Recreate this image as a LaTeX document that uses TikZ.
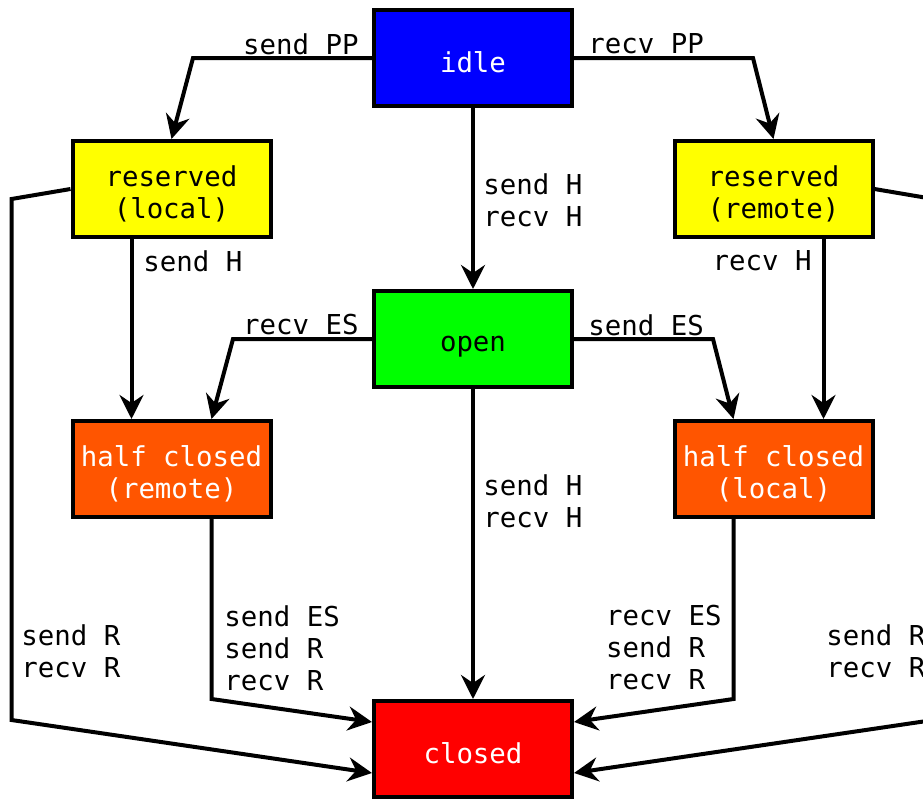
\documentclass[tikz,border=0pt]{standalone}
\usepackage{fontspec}
\setmonofont{DejaVu Sans Mono}
\usetikzlibrary{arrows.meta}
\definecolor{idleblue}{RGB}{0,0,255}
\definecolor{reservedyellow}{RGB}{255,255,0}
\definecolor{opengreen}{RGB}{0,255,0}
\definecolor{halforange}{RGB}{255,85,0}
\definecolor{closedred}{RGB}{255,0,0}
% taller first line, so the state names sit a little low in their boxes
\newcommand{\topstrut}{\rule{0pt}{15pt}}

\tikzset{
  statebox/.style={draw, line width=2pt, minimum width=99pt, minimum height=48pt,
    align=center, font=\ttfamily\fontsize{13.7}{16}\selectfont},
  trans/.style={line width=2pt, -{Stealth[length=12pt,width=12pt,inset=4pt]}},
  translabel/.style={inner sep=0pt, align=left, font=\ttfamily\fontsize{13.7}{16}\selectfont}
}

\begin{document}
\begin{tikzpicture}[x=0.5pt, y=-0.5pt]
    \useasboundingbox (0,0) rectangle (923,800);

    % Stream states
    \node[statebox, fill=idleblue, text=white] (idle) at (473,58) {\topstrut idle};
    \node[statebox, fill=reservedyellow] (resloc) at (171.5,189) {\topstrut reserved\\(local)};
    \node[statebox, fill=reservedyellow] (resrem) at (773.5,189) {\topstrut reserved\\(remote)};
    \node[statebox, fill=opengreen] (open) at (473,339) {\topstrut open};
    \node[statebox, fill=halforange, text=white] (halfrem) at (171.5,469) {\topstrut half closed\\(remote)};
    \node[statebox, fill=halforange, text=white] (halfloc) at (773.5,469) {\topstrut half closed\\(local)};
    \node[statebox, fill=closedred, text=white] (closed) at (473,749) {\topstrut closed};

    % Leaving idle
    \draw[trans] (idle.west) -- ++(-179,0) -- (resloc.north);
    \node[translabel, anchor=east] (lsendpp) at (359,44) {send PP};
    \draw[trans] (idle.east) -- ++(179,0) -- (resrem.north);
    \node[translabel, anchor=west] (lrecvpp) at (588,44) {recv PP};
    \draw[trans] (idle.south) -- (open.north);
    \node[translabel, anchor=west] (lidleopen) at (483,200) {send H\\recv H};

    % Reserved to half closed
    \draw[trans] ([xshift=-20pt]resloc.south) -- ([xshift=-20pt]halfrem.north);
    \node[translabel, anchor=west] (lsendh) at (143,261) {send H};
    \draw[trans] ([xshift=25pt]resrem.south) -- ([xshift=25pt]halfloc.north);
    \node[translabel, anchor=east] (lrecvh) at (812,261) {recv H};

    % Leaving open
    \draw[trans] (open.west) -- ++(-139,0) -- ([xshift=20pt]halfrem.north);
    \node[translabel, anchor=east] (lrecves) at (359,325) {recv ES};
    \draw[trans] (open.east) -- ++(139,0) -- ([xshift=-20pt]halfloc.north);
    \node[translabel, anchor=west] (lsendes) at (588,325) {send ES};
    \draw[trans] (open.south) -- (closed.north);
    \node[translabel, anchor=west] (lopenclosed) at (483,501) {send H\\recv H};

    % Half closed to closed
    \draw[trans] ([xshift=20pt]halfrem.south) -- ++(0,180) -- ([yshift=13.5pt]closed.west);
    \node[translabel, anchor=west] (lhalfrem) at (224,648) {send ES\\send R\\recv R};
    \draw[trans] ([xshift=-20pt]halfloc.south) -- ++(0,180) -- ([yshift=13.5pt]closed.east);
    \node[translabel, anchor=east] (lhalfloc) at (722,648) {recv ES\\send R\\recv R};

    % Reserved straight to closed
    \draw[trans] (resloc.west) -- ++(-59,10) -- ++(0,521) -- ([yshift=-12pt]closed.west);
    \node[translabel, anchor=west] (lresloc) at (21,651) {send R\\recv R};
    \draw[trans] (resrem.east) -- ++(59,10) -- ++(0,521) -- ([yshift=-12pt]closed.east);
    \node[translabel, anchor=west] (lresrem) at (826,651) {send R\\recv R};
\end{tikzpicture}
\end{document}
